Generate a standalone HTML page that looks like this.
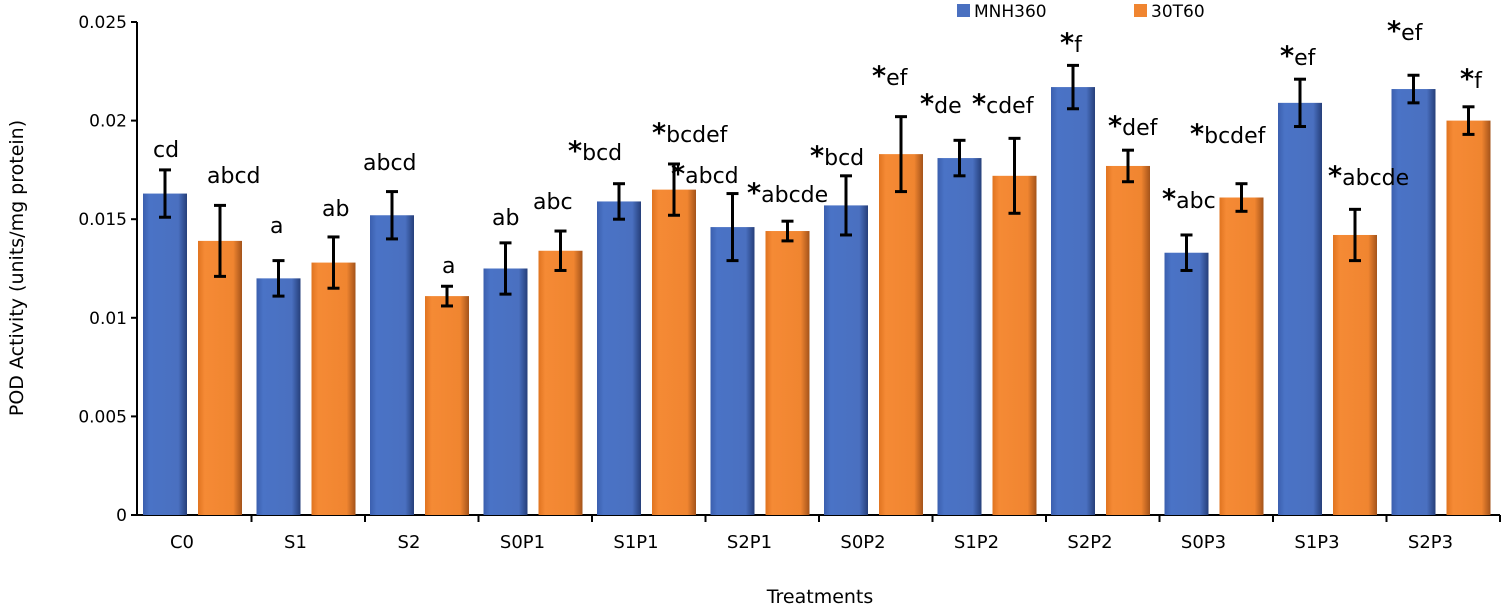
<!DOCTYPE html><html><head><style>body{margin:0;background:#fff}svg{display:block;font-family:"DejaVu Sans","Liberation Sans",sans-serif}</style></head><body>
<svg id="s" width="1505" height="608" xmlns="http://www.w3.org/2000/svg">
<defs>
<linearGradient id="gb" x1="0" x2="1"><stop offset="0" stop-color="#3b5fae"/><stop offset="0.15" stop-color="#4a73c6"/><stop offset="0.8" stop-color="#4a70c0"/><stop offset="1" stop-color="#263f7a"/></linearGradient>
<linearGradient id="go" x1="0" x2="1"><stop offset="0" stop-color="#e07420"/><stop offset="0.15" stop-color="#f58a35"/><stop offset="0.8" stop-color="#f08530"/><stop offset="1" stop-color="#a4531a"/></linearGradient>
</defs>
<g id="g"></g>
</svg>
<script>
const g=document.getElementById('g');let h='';
const Y=v=>515-v/0.005*98.6;
h+='<line x1="137" y1="22" x2="137" y2="515" stroke="#000" stroke-width="2"/>';
h+='<line x1="137" y1="515" x2="1500" y2="515" stroke="#000" stroke-width="2"/>';
const yl=['0','0.005','0.01','0.015','0.02','0.025'];
yl.forEach((t,i)=>{const y=Y(i*0.005);h+=`<line x1="131" y1="${y}" x2="137" y2="${y}" stroke="#000" stroke-width="2"/><text x="127" y="${y+6}" font-size="17" text-anchor="end">${t}</text>`});
const B=[.0163,.012,.0152,.0125,.0159,.0146,.0157,.0181,.0217,.0133,.0209,.0216];
const O=[.0139,.0128,.0111,.0134,.0165,.0144,.0183,.0172,.0177,.0161,.0142,.0200];
const EB=[.0012,.0009,.0012,.0013,.0009,.0017,.0015,.0009,.0011,.0009,.0012,.0007];
const EO=[.0018,.0013,.0005,.0010,.0013,.0005,.0019,.0019,.0008,.0007,.0013,.0007];
const N=['C0','S1','S2','S0P1','S1P1','S2P1','S0P2','S1P2','S2P2','S0P3','S1P3','S2P3'];
const W=113.5;
for(let i=0;i<12;i++){const x0=138+W*i;
 h+=`<line x1="${x0+W}" y1="515" x2="${x0+W}" y2="522" stroke="#000" stroke-width="2"/>`;
 [[B[i],EB[i],x0+5,'gb'],[O[i],EO[i],x0+60,'go']].forEach(([v,e,x,f])=>{const y=Y(v);
  h+=`<rect x="${x}" y="${y}" width="44" height="${515-y}" fill="url(#${f})"/>`;
  const c=x+22,a=Y(v+e),b=Y(v-e);
  h+=`<line x1="${c}" y1="${a}" x2="${c}" y2="${b}" stroke="#000" stroke-width="3"/><line x1="${c-6}" y1="${a}" x2="${c+6}" y2="${a}" stroke="#000" stroke-width="3"/><line x1="${c-6}" y1="${b}" x2="${c+6}" y2="${b}" stroke="#000" stroke-width="3"/>`;});
 h+=`<text x="${x0+44}" y="548" font-size="18" text-anchor="middle">${N[i]}</text>`;}
const L=[['cd',153,157],['abcd',207,183],['a',270,233],['ab',322,216],['abcd',363,170],['a',442,273],['ab',492,225],['abc',533,209],
['*bcd',568,160],['*bcdef',652,142],['*abcd',671,183],['*abcde',747,202],['*bcd',810,165],['*ef',872,85],['*de',920,113],['*cdef',972,113],
['*f',1060,52],['*def',1108,135],['*bcdef',1190,143],['*abc',1162,208],['*ef',1280,65],['*abcde',1328,185],['*ef',1387,40],['*f',1460,88]];
L.forEach(([t,x,y])=>{let s=t.startsWith('*')?`<tspan font-size="27" font-weight="bold">*</tspan>${t.slice(1)}`:t;h+=`<text x="${x}" y="${y}" font-size="22">${s}</text>`});
h+='<rect x="957" y="4" width="13" height="13" fill="#4a70c0"/><text x="974" y="17" font-size="17">MNH360</text>';
h+='<rect x="1134" y="4" width="13" height="13" fill="#f08530"/><text x="1151" y="17" font-size="17">30T60</text>';
h+='<text x="820" y="603" font-size="19" text-anchor="middle">Treatments</text>';
h+='<text transform="translate(23,268) rotate(-90)" font-size="19" text-anchor="middle">POD Activity (units/mg protein)</text>';
g.innerHTML=h;
</script></body></html>
